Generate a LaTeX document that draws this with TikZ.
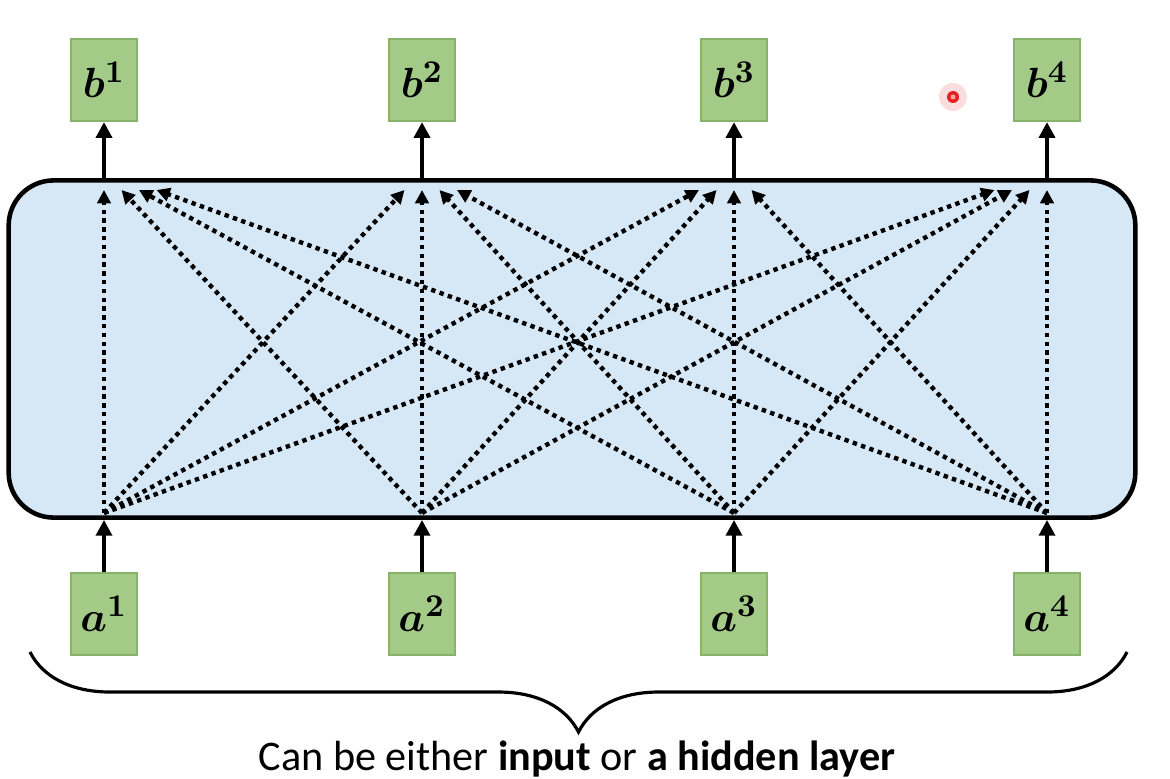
\documentclass[tikz,border=0pt]{standalone}
\usepackage[no-math]{fontspec}
\usepackage{amsmath}
\usetikzlibrary{arrows.meta,calc,positioning,decorations.pathreplacing}
\newfontfamily\captionfont{Carlito}
\definecolor{cellgreen}{RGB}{163,203,135}
\definecolor{cellgreenedge}{RGB}{135,178,105}
\definecolor{layerblue}{RGB}{214,231,245}
\definecolor{laserred}{RGB}{230,30,30}

\begin{document}
\begin{tikzpicture}[x=0.01cm,y=-0.01cm,
    cell/.style={draw=cellgreenedge,fill=cellgreen,line width=0.6pt,
      minimum width=0.66cm,minimum height=0.82cm,inner sep=0pt,
      font=\boldmath\fontsize{13}{15}\selectfont},
    layer/.style={draw,line width=1.3pt,fill=layerblue,rounded corners=0.45cm,
      minimum width=11.26cm,minimum height=3.37cm},
    solidarrow/.style={line width=1.4pt,-{Triangle[length=4.5pt,width=4.5pt]}},
    dottedarrow/.style={line width=1.25pt,dash pattern=on 1.25pt off 1.25pt,
      -{Triangle[length=3.8pt,width=3.8pt]}},
    bracedeco/.style={decorate,line width=0.9pt,
      decoration={brace,mirror,amplitude=0.8cm}}]

  \useasboundingbox (0,0) rectangle (1170,779);

  %-------------------- warstwa --------------------
  \node[layer] (layer) at (572,349) {};

  %-------------------- wejścia i wyjścia --------------------
  \foreach \x [count=\i] in {104,422,734,1047}{
      \node[cell] (b\i) at (\x,80)  {$b^{\i}$};
      \node[cell] (a\i) at (\x,614) {$a^{\i}$};

      \coordinate (in\i)  at (\x,513);
      \coordinate (out\i) at (\x,190);
  }

  % Strzałki pełne i kropkowane
  \foreach \i in {1,...,4}{
      \draw[solidarrow] (a\i.north) -- (a\i |- layer.south);
      \draw[solidarrow] (b\i |- layer.north) -- (b\i.south);

      \foreach \j in {1,...,4}{
          \pgfmathsetmacro\dx{17.5*(\i-\j)}
          \draw[dottedarrow] (in\i) -- ($(out\j)+(\dx,0)$);
      }
  }

  %-------------------- klamra i opis --------------------
  \coordinate (braceL) at (30,652);
  \coordinate (braceR) at (1127,652);
  \draw[bracedeco] (braceL) -- (braceR);

  \node[anchor=base,font=\captionfont\fontsize{12}{14}\selectfont] (caption)
      at (577,770) {Can be either \textbf{input} or \textbf{a hidden layer}};

  % Wskaźnik laserowy
  \fill[laserred,opacity=0.15] (953,97) circle (1.4mm);
  \fill[laserred] (953,97) circle (0.6mm);
  \fill[white!60!laserred] (953,97) circle (0.25mm);

\end{tikzpicture}
\end{document}
